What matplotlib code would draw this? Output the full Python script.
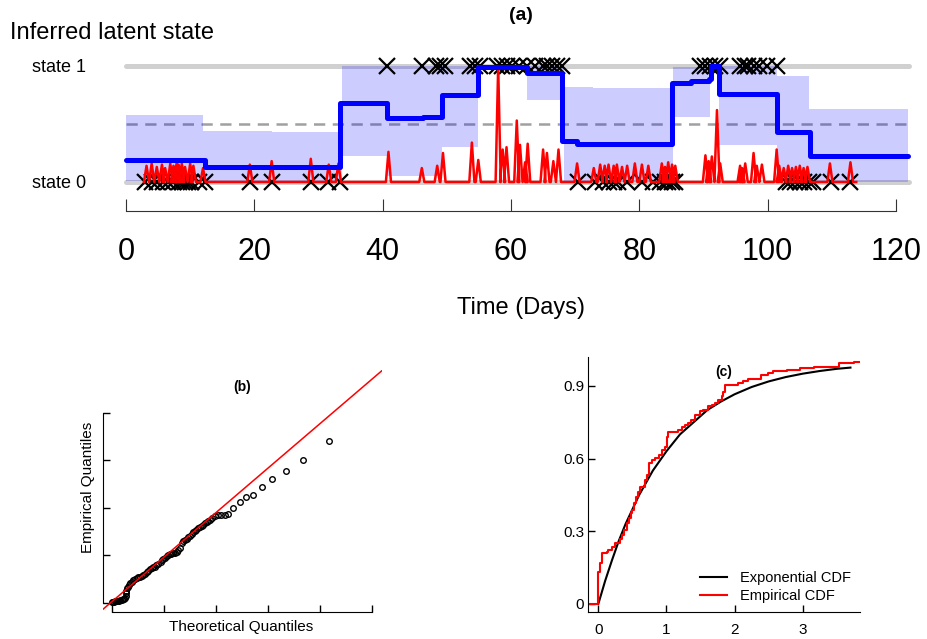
import numpy as np
import matplotlib
matplotlib.use('Agg')
import matplotlib.pyplot as plt

plt.rcParams['font.family'] = ['Liberation Sans', 'DejaVu Sans']

# ---- (a) inferred latent state ----
# posterior mean of the state (step function)
state_t = [0, 12.3, 33.4, 40.6, 46.3, 49.2, 54.9, 62.5, 67.9, 70.3, 85.1, 88.0,
           90.8, 91.2, 92.4, 101.4, 106.6, 121.9]
state_p = [0.19, 0.13, 0.68, 0.55, 0.56, 0.75, 0.99, 0.94, 0.35, 0.33, 0.85, 0.87,
           0.89, 1.0, 0.76, 0.43, 0.22, 0.22]

# credible band
band_t = [0, 12.0, 22.7, 33.6, 40.6, 49.2, 54.9, 62.5, 68.2, 72.8, 85.3, 91.0,
          92.4, 101.4, 106.4, 121.8]
band_lo = [0.01, 0.0, 0.0, 0.22, 0.05, 0.30, 0.98, 0.71, 0.0, 0.0, 0.56, 0.95,
           0.32, 0.0, 0.0, 0.0]
band_hi = [0.58, 0.44, 0.43, 1.0, 1.0, 1.0, 1.0, 1.0, 0.82, 0.81, 0.99, 1.0,
           1.0, 0.91, 0.63, 0.63]

# intensity spikes (time, height)
spike_t = [3.2, 4.0, 4.8, 5.6, 6.1, 6.9, 7.4, 7.9, 8.2, 8.7, 9.2, 10.0, 10.5, 12.0,
           19.3, 22.7, 28.8, 31.6, 33.1,
           40.9, 46.1, 48.5, 49.4, 53.9, 54.9, 58.0, 58.7, 59.3, 60.9, 61.4, 62.2,
           62.6, 65.0, 65.6, 66.6, 67.4,
           70.3, 72.9, 73.9, 74.6, 75.2, 76.0, 76.5, 77.3, 78.1, 79.3, 80.4, 81.4,
           83.5, 84.0, 84.5, 85.1, 85.6,
           90.3, 90.8, 91.3, 92.1, 92.6,
           95.7, 96.0, 96.5, 97.8, 98.3, 99.1,
           101.4, 101.8, 102.5, 103.2, 103.8, 104.4, 105.0, 105.6, 106.2,
           109.7, 112.9]
spike_h = [0.14, 0.16, 0.13, 0.15, 0.12, 0.16, 0.14, 0.17, 0.15, 0.16, 0.13, 0.16, 0.14, 0.12,
           0.15, 0.18, 0.20, 0.15, 0.16,
           0.26, 0.12, 0.14, 0.25, 0.34, 0.19, 1.0, 0.28, 0.30, 0.53, 0.32, 0.17,
           0.33, 0.28, 0.25, 0.18, 0.28,
           0.16, 0.12, 0.15, 0.14, 0.15, 0.14, 0.15, 0.13, 0.14, 0.16, 0.15, 0.14,
           0.16, 0.13, 0.17, 0.15, 0.14,
           0.23, 0.18, 0.22, 0.62, 0.16,
           0.14, 0.12, 0.16, 0.25, 0.14, 0.15,
           0.28, 0.14, 0.12, 0.14, 0.12, 0.13, 0.14, 0.12, 0.13,
           0.16, 0.17]

# observed events in each state
events_hi = [40.6, 46.1, 48.3, 49.0, 49.7, 53.6, 54.4, 55.2, 57.8, 58.6, 59.3, 60.1,
             61.2, 62.5, 63.8, 65.0, 65.6, 66.4, 67.1, 67.9,
             89.5, 90.3, 91.0, 91.8, 92.6, 95.7, 96.5, 97.0, 97.8, 98.6, 99.9, 101.4]
events_lo = [3.0, 4.0, 4.8, 5.8, 6.6, 7.4, 8.2, 8.7, 9.2, 9.7, 10.2, 11.3, 12.3,
             19.3, 22.7, 28.9, 31.5, 33.4,
             70.4, 73.1, 74.4, 75.2, 76.0, 76.7, 78.0, 80.4, 82.2, 83.2, 84.0, 84.5,
             85.1, 85.6,
             102.8, 103.5, 104.3, 105.1, 105.6, 106.4, 107.1, 109.8, 112.8]
time_end = 122.0
red_start, red_end = 2.8, 113.8

# ---- (b) QQ plot ----
qq_x = [0.00, 0.02, 0.04, 0.06, 0.08, 0.10, 0.12, 0.15, 0.18, 0.21, 0.23, 0.245,
        0.255, 0.263, 0.27, 0.276, 0.30, 0.328, 0.35, 0.372, 0.40, 0.437, 0.47,
        0.501, 0.53, 0.565, 0.60, 0.629, 0.66, 0.693, 0.72, 0.757, 0.79, 0.821,
        0.85, 0.885, 0.93, 0.96, 0.981, 1.01, 1.046, 1.08, 1.110, 1.14, 1.174,
        1.21, 1.238, 1.27, 1.302, 1.334, 1.37, 1.398, 1.43, 1.462, 1.49, 1.526,
        1.56, 1.590, 1.62, 1.654, 1.69, 1.719, 1.75, 1.783, 1.82, 1.847, 1.88,
        1.911, 1.975, 2.039, 2.103, 2.167, 2.231, 2.328, 2.456, 2.58, 2.71, 2.89,
        3.08, 3.34, 3.67, 4.17]
qq_y = [0.02, 0.022, 0.025, 0.03, 0.036, 0.04, 0.045, 0.057, 0.062, 0.071, 0.085,
        0.106, 0.15, 0.197, 0.25, 0.302, 0.34, 0.373, 0.41, 0.443, 0.47, 0.492,
        0.515, 0.534, 0.548, 0.562, 0.585, 0.604, 0.64, 0.674, 0.70, 0.724, 0.742,
        0.759, 0.785, 0.808, 0.864, 0.89, 0.913, 0.95, 0.983, 1.00, 1.018, 1.028,
        1.039, 1.057, 1.074, 1.11, 1.145, 1.25, 1.29, 1.320, 1.35, 1.376, 1.41,
        1.439, 1.48, 1.516, 1.54, 1.566, 1.59, 1.615, 1.645, 1.671, 1.70, 1.727,
        1.75, 1.776, 1.825, 1.839, 1.846, 1.853, 1.860, 1.987, 2.127, 2.23, 2.27,
        2.44, 2.60, 2.77, 3.00, 3.41]
qq_icept, qq_slope = 0.03, 0.935

# ---- (c) CDFs ----
exp_x = [0, 0.1, 0.2, 0.3, 0.4, 0.5, 0.6, 0.7, 0.8, 0.9, 1.0, 1.2, 1.4, 1.6, 1.8,
         2.0, 2.25, 2.5, 2.75, 3.0, 3.25, 3.5, 3.7]
exp_y = [0, 0.095, 0.18, 0.26, 0.33, 0.39, 0.45, 0.50, 0.55, 0.59, 0.63, 0.70,
         0.75, 0.80, 0.835, 0.865, 0.895, 0.918, 0.936, 0.950, 0.961, 0.970, 0.975]
ecdf_x = [-0.15, 0.0, 0.025, 0.059, 0.123, 0.147, 0.196, 0.245, 0.319, 0.343, 0.382,
          0.417, 0.451, 0.480, 0.500, 0.529, 0.549, 0.578, 0.612, 0.686, 0.710,
          0.744, 0.784, 0.830, 0.891, 0.940, 0.979, 1.004, 1.028, 1.175, 1.224,
          1.273, 1.322, 1.361, 1.420, 1.493, 1.542, 1.616, 1.665, 1.714, 1.763,
          1.812, 1.836, 1.860, 2.056, 2.130, 2.203, 2.389, 2.497, 2.570, 2.766,
          2.962, 3.158, 3.525, 3.745, 3.84]
ecdf_y = [0, 0.133, 0.168, 0.211, 0.215, 0.223, 0.236, 0.253, 0.267, 0.285, 0.305,
          0.333, 0.353, 0.374, 0.388, 0.415, 0.443, 0.463, 0.484, 0.512, 0.532,
          0.581, 0.594, 0.601, 0.615, 0.635, 0.649, 0.690, 0.711, 0.718, 0.732,
          0.739, 0.746, 0.759, 0.780, 0.794, 0.801, 0.815, 0.821, 0.828, 0.842,
          0.856, 0.876, 0.904, 0.913, 0.918, 0.927, 0.945, 0.952, 0.959, 0.966,
          0.973, 0.979, 0.993, 1.0, 1.0]

W, H = 928, 639


def px_box(x0, y0, x1, y1):
    # axes rectangle from pixel corners (top-left origin)
    return [x0 / W, 1 - y1 / H, (x1 - x0) / W, (y1 - y0) / H]


def spike_line(ts, hs, w=0.4):
    xs, ys = [red_start], [0]
    for t, h in zip(ts, hs):
        xs += [t - w, t, t + w]
        ys += [0, h, 0]
    xs.append(red_end)
    ys.append(0)
    return xs, ys


fig = plt.figure(figsize=(W / 100, H / 100), dpi=100)

# ---------------- panel (a)
ax = fig.add_axes(px_box(120, 50, 915, 215))
ax.set_xlim(-0.935, 122.96)
ax.set_ylim(-0.2845, 1.138)
ax.hlines([0, 1], 0, time_end, color='#d0d0d0', lw=3.6, capstyle='round', zorder=1)
ax.hlines(0.5, 0, time_end, color='#a0a0a0', lw=1.8, linestyles=(0, (4.5, 3)), zorder=1)
ax.fill_between(band_t, band_lo, band_hi, step='post', color='blue', alpha=0.2,
                lw=0, zorder=2)
ax.plot(events_hi, np.ones(len(events_hi)), 'x', color='black', ms=12, mew=1.6, zorder=3)
ax.plot(events_lo, np.zeros(len(events_lo)), 'x', color='black', ms=12, mew=1.6, zorder=3)
rx, ry = spike_line(spike_t, spike_h)
ax.plot(rx, ry, color='red', lw=1.8, zorder=4)
ax.plot(state_t, state_p, drawstyle='steps-post', color='blue', lw=3.6,
        solid_joinstyle='round', solid_capstyle='round', zorder=5)

for s in ['top', 'right', 'left']:
    ax.spines[s].set_visible(False)
ax.spines['bottom'].set_position(('data', -0.25))
ax.spines['bottom'].set_bounds(0, 120)
ax.spines['bottom'].set_color('#333333')
ax.set_xticks(range(0, 121, 20))
ax.set_yticks([])
ax.tick_params(axis='x', direction='in', length=8.6, width=0.8, color='#333333',
               labelsize=22, pad=19)

fig.text(521 / W, 1 - 16 / H, '(a)', ha='center', va='center', fontsize=14,
         fontweight='bold')
fig.text(10 / W, 1 - 33 / H, 'Inferred latent state', ha='left', va='center',
         fontsize=17)
fig.text(86 / W, 1 - 68 / H, 'state 1', ha='right', va='center', fontsize=13)
fig.text(86 / W, 1 - 183 / H, 'state 0', ha='right', va='center', fontsize=13)
fig.text(521 / W, 1 - 308 / H, 'Time (Days)', ha='center', va='center', fontsize=17)

# ---------------- panel (b)
axb = fig.add_axes(px_box(103, 370, 382, 611.7))
axb.set_xlim(-0.179, 5.194)
axb.set_ylim(-0.189, 4.899)
axb.plot(qq_x, qq_y, 'o', mfc='none', mec='black', ms=4, mew=1, zorder=2)
axb.axline((0, qq_icept), slope=qq_slope, color='red', lw=1.1, zorder=3)
for s in ['top', 'right']:
    axb.spines[s].set_visible(False)
axb.spines['left'].set_bounds(0, 4)
axb.spines['bottom'].set_bounds(0, 5)
axb.set_xticks(range(6))
axb.set_yticks(range(5))
axb.set_xticklabels([])
axb.set_yticklabels([])
axb.tick_params(direction='in', length=5, width=1)
fig.text(241.7 / W, 1 - 386.7 / H, '(b)', ha='center', va='center', fontsize=10,
         fontweight='bold')
fig.text(88 / W, 1 - 487 / H, 'Empirical Quantiles', ha='center', va='center',
         rotation=90, fontsize=11)
fig.text(241 / W, 1 - 626.7 / H, 'Theoretical Quantiles', ha='center',
         va='center', fontsize=11)

# ---------------- panel (c)
axc = fig.add_axes(px_box(588.3, 356.7, 860, 611.7))
axc.set_xlim(-0.147, 3.84)
axc.set_ylim(-0.032, 1.02)
axc.plot(exp_x, exp_y, color='black', lw=1.5, label='Exponential CDF')
axc.plot(ecdf_x, ecdf_y, drawstyle='steps-post', color='red', lw=1.5,
         label='Empirical CDF')
for s in ['top', 'right']:
    axc.spines[s].set_visible(False)
axc.set_xticks([0, 1, 2, 3])
axc.set_yticks([0, 0.3, 0.6, 0.9])
axc.set_yticklabels(['0', '0.3', '0.6', '0.9'])
axc.tick_params(direction='in', length=5, width=1, labelsize=11)
axc.tick_params(axis='y', pad=3)
axc.tick_params(axis='x', pad=8)
fig.text(723.3 / W, 1 - 371.7 / H, '(c)', ha='center', va='center', fontsize=10,
         fontweight='bold')
axc.legend(loc='lower left', bbox_to_anchor=(0.411, 0.034), frameon=False,
           fontsize=10.5, handlelength=1.85, handletextpad=0.9, borderpad=0,
           borderaxespad=0, labelspacing=0.25)

fig.savefig('out.png', dpi=100)
